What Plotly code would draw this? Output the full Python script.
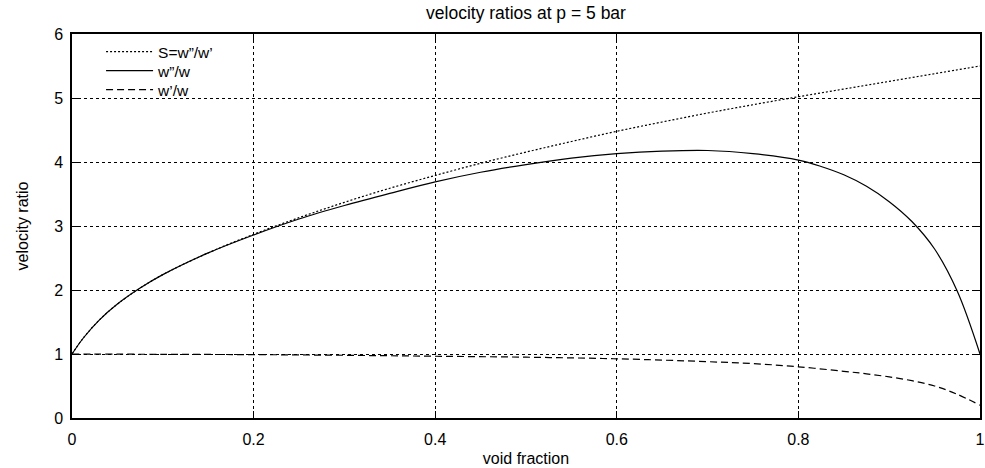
import plotly.graph_objects as go

# void fraction sample points and read-off values
x_s = [0, 0.0125, 0.03, 0.05, 0.075, 0.1, 0.15, 0.2, 0.25, 0.3, 0.35, 0.4, 0.45, 0.5,
       0.55, 0.6, 0.65, 0.7, 0.75, 0.8, 0.85, 0.9, 0.95, 1.0]
s_vals = [1.0, 1.25, 1.53, 1.78, 2.03, 2.24, 2.58, 2.87, 3.13, 3.37, 3.59, 3.79, 3.98, 4.155,
          4.32, 4.48, 4.625, 4.765, 4.895, 5.02, 5.14, 5.26, 5.38, 5.5]

x_g = [0, 0.0125, 0.03, 0.05, 0.075, 0.1, 0.15, 0.2, 0.25, 0.3, 0.35, 0.4, 0.45, 0.5,
       0.55, 0.6, 0.65, 0.7, 0.75, 0.8, 0.825, 0.85, 0.875, 0.9, 0.925, 0.95, 0.975, 1.0]
wg_vals = [1.0, 1.25, 1.53, 1.78, 2.03, 2.24, 2.58, 2.86, 3.11, 3.32, 3.51, 3.69, 3.84, 3.96,
           4.06, 4.13, 4.17, 4.18, 4.13, 4.03, 3.93, 3.80, 3.62, 3.38, 3.07, 2.64, 1.98, 1.0]

x_l = [0, 0.1, 0.2, 0.3, 0.4, 0.5, 0.6, 0.7, 0.75, 0.8, 0.85, 0.875, 0.9, 0.925, 0.95, 0.975, 1.0]
wl_vals = [1.0, 0.995, 0.99, 0.98, 0.965, 0.95, 0.925, 0.88, 0.85, 0.80, 0.73, 0.69, 0.643,
           0.583, 0.50, 0.37, 0.2]

x_ticks = [0, 0.2, 0.4, 0.6, 0.8, 1]
x_tick_labels = ["0", "0.2", "0.4", "0.6", "0.8", "1"]
y_ticks = [0, 1, 2, 3, 4, 5, 6]

font = "Liberation Sans, Arial, sans-serif"

fig = go.Figure()
fig.add_trace(go.Scatter(x=x_s, y=s_vals, mode="lines", name="S=w”/w’", legend="legend",
                         line=dict(color="black", width=1.2, dash="2px,2px", shape="spline")))
fig.add_trace(go.Scatter(x=x_g, y=wg_vals, mode="lines", name="w”/w", legend="legend2",
                         line=dict(color="black", width=1.2, shape="spline")))
fig.add_trace(go.Scatter(x=x_l, y=wl_vals, mode="lines", name="w’/w", legend="legend3",
                         line=dict(color="black", width=1.2, dash="7px,4px", shape="spline")))

leg_common = dict(x=0.032, xanchor="left", yanchor="middle", bgcolor="rgba(0,0,0,0)",
                  font=dict(size=15.5), itemwidth=47)

fig.update_layout(
    width=985, height=468,
    margin=dict(l=72, r=5, t=34, b=50),
    paper_bgcolor="white", plot_bgcolor="white",
    font=dict(family=font, size=16, color="black"),
    title=dict(text="velocity ratios at p = 5 bar", x=0.534, xanchor="center",
               y=0.972, yanchor="middle", font=dict(size=17.5)),
    legend=dict(y=0.953, **leg_common),
    legend2=dict(y=0.9036, **leg_common),
    legend3=dict(y=0.854, **leg_common),
    showlegend=True,
)
fig.update_xaxes(range=[0, 1], tickvals=x_ticks, ticktext=x_tick_labels,
                 showline=True, linecolor="black", linewidth=1.5, mirror="all",
                 ticks="inside", ticklen=7, tickcolor="black", ticklabelstandoff=6,
                 showgrid=True, gridcolor="black", griddash="dot", gridwidth=1,
                 zeroline=False, automargin=False,
                 title=dict(text="void fraction", standoff=6, font=dict(size=16)))
fig.update_yaxes(range=[0, 6], tickvals=y_ticks,
                 showline=True, linecolor="black", linewidth=1.5, mirror="all",
                 ticks="inside", ticklen=7, tickcolor="black", ticklabelstandoff=4,
                 showgrid=True, gridcolor="black", griddash="dot", gridwidth=1,
                 zeroline=False, automargin=False,
                 title=dict(text="velocity ratio", standoff=22, font=dict(size=16)))

fig.write_html("out.html")
